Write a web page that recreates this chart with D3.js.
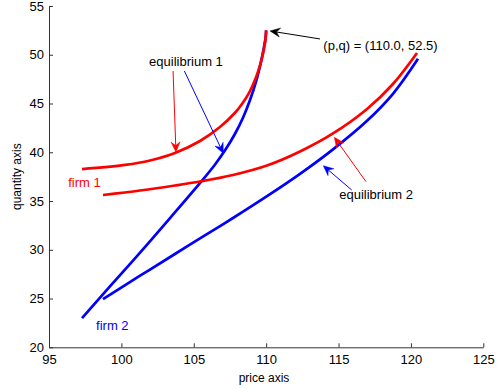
<!DOCTYPE html>
<html>
<head>
<meta charset="utf-8">
<script src="https://cdn.jsdelivr.net/npm/d3@7"></script>
<style>
body{margin:0;background:#fff;}
svg{display:block;font-family:"Liberation Sans",Arial,Helvetica,sans-serif;}
</style>
</head>
<body>
<svg id="chart" width="503" height="389"></svg>
<script>
// ---- data (price, quantity) ----
const firm1Eq1Price = [97.28, 100.25, 101.98, 103.70, 105.43, 106.81, 107.85, 108.33, 108.75, 109.09, 109.44, 109.71, 109.92, 110.0];
const firm1Eq1Qty   = [38.27, 38.70, 39.16, 39.93, 41.16, 42.59, 44.05, 44.95, 45.91, 46.93, 48.26, 49.66, 51.20, 52.5];
const firm2Eq1Price = [97.28, 99.21, 101.29, 103.36, 105.57, 106.47, 107.16, 107.85, 108.40, 108.88, 109.30, 109.64, 109.85, 109.97, 110.0];
const firm2Eq1Qty   = [23.0, 26.24, 29.71, 33.25, 37.09, 38.75, 40.20, 41.90, 43.54, 45.33, 47.24, 49.24, 50.78, 51.82, 52.5];
const firm1Eq2Price = [98.73, 101.29, 103.70, 105.43, 107.71, 110.06, 112.34, 114.62, 116.97, 118.76, 120.42];
const firm1Eq2Qty   = [35.62, 36.08, 36.59, 37.00, 37.67, 38.64, 40.08, 41.93, 44.44, 47.0, 50.18];
const firm2Eq2Price = [98.73, 101.29, 103.70, 105.43, 107.71, 110.06, 112.34, 114.62, 116.97, 118.76, 120.49];
const firm2Eq2Qty   = [24.95, 27.34, 29.57, 31.16, 33.26, 35.50, 37.79, 40.30, 43.23, 46.0, 49.59];

const xTicks = [95, 100, 105, 110, 115, 120, 125];
const yTicks = [20, 25, 30, 35, 40, 45, 50, 55];

const xLabel = "price axis";
const yLabel = "quantity axis";

// annotations (data coords)
const textLabels = [
  {text: "equilibrium 1", x: 104.46, y: 49.27, color: "#000", anchor: "middle"},
  {text: "(p,q) = (110.0, 52.5)", x: 113.95, y: 51.0, color: "#000", anchor: "start"},
  {text: "equilibrium 2", x: 115.05, y: 35.69, color: "#000", anchor: "start"},
  {text: "firm 1", x: 96.33, y: 36.88, color: "#ff0000", anchor: "start"},
  {text: "firm 2", x: 98.25, y: 22.29, color: "#0000ff", anchor: "start"}
];
const arrows = [
  {x1: 103.57, y1: 48.34, x2: 103.77, y2: 40.03, color: "#ff0000"},
  {x1: 104.35, y1: 48.34, x2: 107.04, y2: 39.9, color: "#0000ff"},
  {x1: 113.72, y1: 51.62, x2: 110.27, y2: 52.44, color: "#000000"},
  {x1: 116.9, y1: 36.98, x2: 114.71, y2: 41.54, color: "#ff0000"},
  {x1: 115.91, y1: 36.13, x2: 113.95, y2: 38.62, color: "#0000ff"}
];

// ---- chart ----
const svg = d3.select("#chart");
const x = d3.scaleLinear().domain([95, 125]).range([49, 483.3]);
const y = d3.scaleLinear().domain([20, 55]).range([347.3, 6]);

const axisColor = "#333";

const gx = svg.append("g").attr("transform", `translate(0,${y(20)})`)
  .call(d3.axisBottom(x).tickValues(xTicks).tickSize(0).tickPadding(5).tickFormat(d3.format("d")));
gx.select(".domain").attr("stroke", axisColor);
gx.selectAll(".tick line").remove();
gx.selectAll(".tick").append("line").attr("y1", 0).attr("y2", -4).attr("stroke", axisColor);
gx.selectAll("text").attr("font-size", 13).attr("fill", "#000").attr("dy", "0.9em")
  .style("font-family", "'Liberation Sans',Arial,sans-serif");

const gy = svg.append("g").attr("transform", `translate(${x(95)},0)`)
  .call(d3.axisLeft(y).tickValues(yTicks).tickSize(0).tickPadding(5).tickFormat(d3.format("d")));
gy.select(".domain").attr("stroke", axisColor);
gy.selectAll(".tick line").remove();
gy.selectAll(".tick").append("line").attr("x1", 0).attr("x2", 4).attr("stroke", axisColor);
gy.selectAll("text").attr("font-size", 13).attr("fill", "#000")
  .style("font-family", "'Liberation Sans',Arial,sans-serif");

svg.append("text").attr("x", 264).attr("y", 382).attr("text-anchor", "middle")
  .attr("font-size", 12).text(xLabel);
svg.append("text").attr("transform", `translate(21,${y(37.5)}) rotate(-90)`)
  .attr("text-anchor", "middle").attr("font-size", 12).text(yLabel);

const line = d3.line().x(d => x(d[0])).y(d => y(d[1])).curve(d3.curveCatmullRom.alpha(0.5));
function series(px, py) { return px.map((p, i) => [p, py[i]]); }

const curves = [
  {d: series(firm2Eq1Price, firm2Eq1Qty), color: "#0000ff"},
  {d: series(firm2Eq2Price, firm2Eq2Qty), color: "#0000ff"},
  {d: series(firm1Eq1Price, firm1Eq1Qty), color: "#ff0000"},
  {d: series(firm1Eq2Price, firm1Eq2Qty), color: "#ff0000"}
];
svg.selectAll("path.curve").data(curves).enter().append("path")
  .attr("class", "curve").attr("d", c => line(c.d))
  .attr("fill", "none").attr("stroke", c => c.color).attr("stroke-width", 2.7)
  .attr("stroke-linecap", "butt").attr("stroke-linejoin", "round");

// arrows
arrows.forEach(a => {
  const X1 = x(a.x1), Y1 = y(a.y1), X2 = x(a.x2), Y2 = y(a.y2);
  const ang = Math.atan2(Y2 - Y1, X2 - X1);
  const L = 10, W = 4.5, N = 6.5;
  const ux = Math.cos(ang), uy = Math.sin(ang), nx = -uy, ny = ux;
  svg.append("line").attr("x1", X1).attr("y1", Y1)
    .attr("x2", X2 - ux * N).attr("y2", Y2 - uy * N)
    .attr("stroke", a.color).attr("stroke-width", 1);
  const pts = [
    [X2, Y2],
    [X2 - ux * L + nx * W, Y2 - uy * L + ny * W],
    [X2 - ux * N, Y2 - uy * N],
    [X2 - ux * L - nx * W, Y2 - uy * L - ny * W]
  ];
  svg.append("path").attr("d", "M" + pts.map(p => p.join(",")).join("L") + "Z")
    .attr("fill", a.color).attr("stroke", a.color).attr("stroke-width", 0.5);
});

svg.selectAll("text.ann").data(textLabels).enter().append("text")
  .attr("class", "ann").attr("x", d => x(d.x)).attr("y", d => y(d.y))
  .attr("dy", "0.35em").attr("text-anchor", d => d.anchor)
  .attr("fill", d => d.color).attr("font-size", 13).text(d => d.text);
</script>
</body>
</html>
